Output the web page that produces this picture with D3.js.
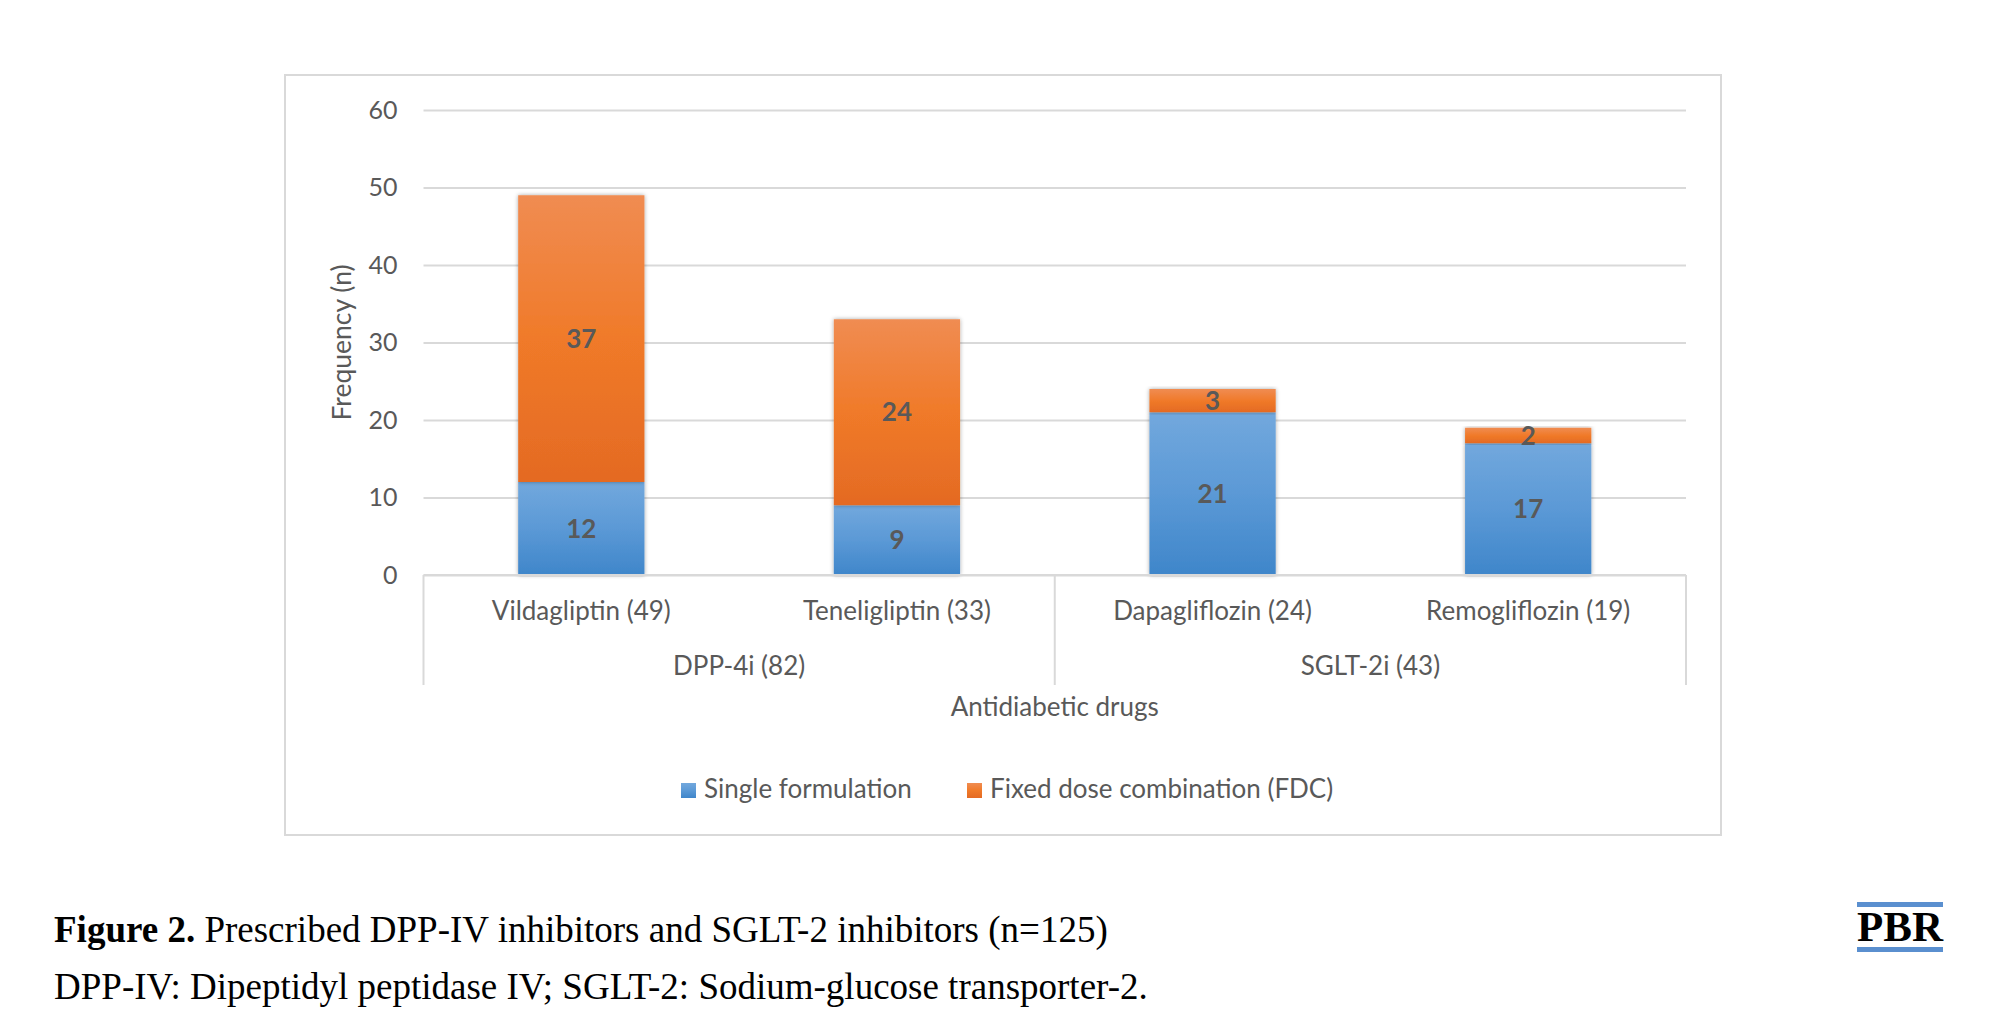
<!DOCTYPE html>
<html>
<head>
<meta charset="utf-8">
<script src="https://cdn.jsdelivr.net/npm/d3@7"></script>
<style>
  body { margin: 0; background: #fff; }
  svg { display: block; }
  .axis-text { font-family: Lato, "Open Sans", sans-serif; fill: #595959; }
</style>
</head>
<body>
<svg id="chart"></svg>
<script>
// Data
const drugs = ['Vildagliptin (49)', 'Teneligliptin (33)', 'Dapagliflozin (24)', 'Remogliflozin (19)'];
const drugGroup = ['DPP-4i (82)', 'DPP-4i (82)', 'SGLT-2i (43)', 'SGLT-2i (43)'];
const groups = ['DPP-4i (82)', 'SGLT-2i (43)'];
const singleFormulation = [12, 9, 21, 17];
const fixedDose = [37, 24, 3, 2];
const seriesNames = ['Single formulation', 'Fixed dose combination (FDC)'];
const yTicks = [0, 10, 20, 30, 40, 50, 60];

const W = 1992, H = 1025;
const plot = {left: 423.5, right: 1686, top: 110, bottom: 575};
const colors = {
  single: ['#72a8dd', '#5b99d6', '#3f86ca'],
  fdc: ['#f08c52', '#f07a29', '#e46a23']
};

const svg = d3.select('#chart')
    .attr('width', W)
    .attr('height', H);

// gradients and shadow
const defs = svg.append('defs');
[['grad-single', colors.single], ['grad-fdc', colors.fdc]].forEach(([id, c]) => {
  const g = defs.append('linearGradient')
      .attr('id', id)
      .attr('x1', 0).attr('y1', 0).attr('x2', 0).attr('y2', 1);
  g.append('stop').attr('offset', '0%').attr('stop-color', c[0]);
  g.append('stop').attr('offset', '50%').attr('stop-color', c[1]);
  g.append('stop').attr('offset', '100%').attr('stop-color', c[2]);
});
defs.append('filter')
    .attr('id', 'shadow')
    .attr('x', '-10%').attr('y', '-10%').attr('width', '120%').attr('height', '120%')
  .append('feDropShadow')
    .attr('dx', 0).attr('dy', 0)
    .attr('stdDeviation', 2.2)
    .attr('flood-color', '#000')
    .attr('flood-opacity', 0.35);

// chart frame
svg.append('rect')
    .attr('x', 285).attr('y', 75)
    .attr('width', 1436).attr('height', 760)
    .attr('fill', '#fff')
    .attr('stroke', '#d9d9d9')
    .attr('stroke-width', 2);

// scales
const x = d3.scaleBand()
    .domain(drugs)
    .range([plot.left, plot.right])
    .paddingInner(0.6)
    .paddingOuter(0.3);

const y = d3.scaleLinear()
    .domain([0, 60])
    .range([plot.bottom, plot.top]);

// y axis with gridlines
const yAxis = svg.append('g')
    .attr('transform', `translate(${plot.left},0)`)
    .call(d3.axisLeft(y)
      .tickValues(yTicks)
      .tickSize(-(plot.right - plot.left))
      .tickPadding(26));
yAxis.select('.domain').remove();
yAxis.selectAll('line')
    .attr('stroke', '#d9d9d9')
    .attr('stroke-width', 2);
yAxis.selectAll('text')
    .attr('class', 'axis-text')
    .attr('font-size', 25);

// stacked bars
const rows = drugs.map((d, i) => ({drug: d, single: singleFormulation[i], fdc: fixedDose[i]}));
const stack = d3.stack().keys(['single', 'fdc'])(rows);

const layers = svg.append('g')
    .selectAll('g')
    .data(stack)
  .join('g')
    .attr('fill', d => d.key === 'single' ? 'url(#grad-single)' : 'url(#grad-fdc)');

layers.selectAll('rect')
    .data(d => d)
  .join('rect')
    .attr('x', d => x(d.data.drug))
    .attr('y', d => y(d[1]))
    .attr('width', x.bandwidth())
    .attr('height', d => y(d[0]) - y(d[1]))
    .attr('filter', 'url(#shadow)');

// data labels
svg.append('g')
    .selectAll('g')
    .data(stack)
  .join('g')
    .selectAll('text')
    .data(d => d)
  .join('text')
    .attr('x', d => x(d.data.drug) + x.bandwidth() / 2)
    .attr('y', d => y((d[0] + d[1]) / 2))
    .attr('dy', '0.35em')
    .attr('text-anchor', 'middle')
    .attr('font-family', 'Lato, sans-serif')
    .attr('font-weight', 'bold')
    .attr('font-size', 26)
    .attr('fill', '#595959')
    .text(d => d[1] - d[0]);

// category axis: baseline and group separators
const axisG = svg.append('g');
axisG.append('line')
    .attr('x1', plot.left).attr('x2', plot.right)
    .attr('y1', y(0)).attr('y2', y(0))
    .attr('stroke', '#d9d9d9')
    .attr('stroke-width', 2);

const groupBounds = groups.map(g => {
  const members = drugs.filter((d, i) => drugGroup[i] === g);
  const first = members[0], last = members[members.length - 1];
  return {
    name: g,
    x0: x(first) + x.bandwidth() / 2 - x.step() / 2,
    x1: x(last) + x.bandwidth() / 2 + x.step() / 2
  };
});
const sepX = [groupBounds[0].x0].concat(groupBounds.map(g => g.x1));

axisG.selectAll('.sep')
    .data(sepX)
  .join('line')
    .attr('class', 'sep')
    .attr('x1', d => d).attr('x2', d => d)
    .attr('y1', y(0)).attr('y2', 685)
    .attr('stroke', '#d9d9d9')
    .attr('stroke-width', 2);

axisG.selectAll('.cat')
    .data(drugs)
  .join('text')
    .attr('class', 'axis-text cat')
    .attr('x', d => x(d) + x.bandwidth() / 2)
    .attr('y', 620)
    .attr('text-anchor', 'middle')
    .attr('font-size', 26)
    .text(d => d);

axisG.selectAll('.grp')
    .data(groupBounds)
  .join('text')
    .attr('class', 'axis-text grp')
    .attr('x', d => (d.x0 + d.x1) / 2)
    .attr('y', 675)
    .attr('text-anchor', 'middle')
    .attr('font-size', 26)
    .text(d => d.name);

// axis titles
svg.append('text')
    .attr('class', 'axis-text')
    .attr('x', (plot.left + plot.right) / 2)
    .attr('y', 716)
    .attr('text-anchor', 'middle')
    .attr('font-size', 26)
    .text('Antidiabetic drugs');

svg.append('text')
    .attr('class', 'axis-text')
    .attr('transform', `translate(351,${(plot.top + plot.bottom) / 2}) rotate(-90)`)
    .attr('text-anchor', 'middle')
    .attr('font-size', 26.5)
    .text('Frequency (n)');

// legend
const legend = svg.append('g');
const legendItems = [
  {name: seriesNames[0], fill: 'url(#grad-single)', x: 681},
  {name: seriesNames[1], fill: 'url(#grad-fdc)', x: 967}
];
const li = legend.selectAll('g')
    .data(legendItems)
  .join('g')
    .attr('transform', d => `translate(${d.x},0)`);
li.append('rect')
    .attr('x', 0).attr('y', 783)
    .attr('width', 15).attr('height', 15)
    .attr('fill', d => d.fill);
li.append('text')
    .attr('class', 'axis-text')
    .attr('x', 23)
    .attr('y', 798)
    .attr('font-size', 26)
    .text(d => d.name);

// caption
const cap = svg.append('g')
    .attr('font-family', '"Liberation Serif", "DejaVu Serif", serif')
    .attr('font-size', 37)
    .attr('fill', '#000');
const line1 = cap.append('text').attr('x', 54).attr('y', 942);
line1.append('tspan').attr('font-weight', 'bold').text('Figure 2.');
line1.append('tspan').text(' Prescribed DPP-IV inhibitors and SGLT-2 inhibitors (n=125)');
cap.append('text')
    .attr('x', 54).attr('y', 999)
    .text('DPP-IV: Dipeptidyl peptidase IV; SGLT-2: Sodium-glucose transporter-2.');

// journal mark
const logo = svg.append('g');
logo.append('rect').attr('x', 1857).attr('y', 902).attr('width', 86).attr('height', 5).attr('fill', '#5a8fcf');
logo.append('rect').attr('x', 1857).attr('y', 947).attr('width', 86).attr('height', 5).attr('fill', '#5a8fcf');
logo.append('text')
    .attr('x', 1900).attr('y', 941)
    .attr('text-anchor', 'middle')
    .attr('font-family', '"Liberation Serif", serif')
    .attr('font-weight', 'bold')
    .attr('font-size', 43)
    .attr('fill', '#000')
    .text('PBR');
</script>
</body>
</html>
